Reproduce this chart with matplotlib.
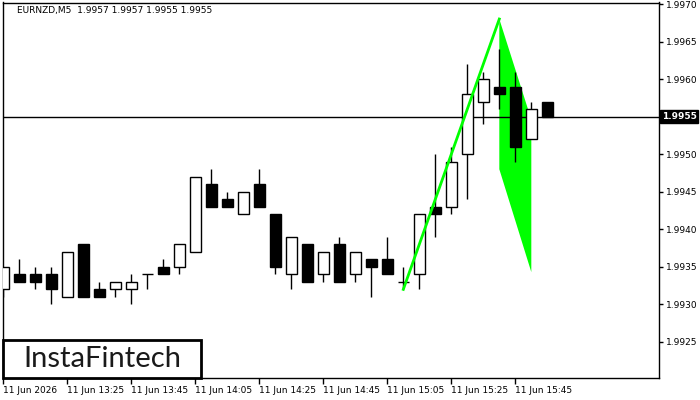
import numpy as np
import matplotlib.pyplot as plt
from matplotlib.patches import Polygon, Rectangle
from matplotlib.transforms import blended_transform_factory

# -----------------------------
# Datos (velas M5 EURNZD)
# -----------------------------

symbol_text = "EURNZD,M5  1.9957 1.9957 1.9955 1.9955"

opens = [1.9932, 1.9934, 1.9934, 1.9934, 1.9931, 1.9938, 1.9932, 1.9932, 1.9932, 1.9934,
         1.9935, 1.9935, 1.9937, 1.9946, 1.9944, 1.9942, 1.9946, 1.9942, 1.9934, 1.9938,
         1.9934, 1.9938, 1.9934, 1.9936, 1.9936, 1.9933, 1.9934, 1.9943, 1.9943, 1.9950,
         1.9957, 1.9959, 1.9959, 1.9952, 1.9957]
highs = [1.9935, 1.9936, 1.9935, 1.9935, 1.9937, 1.9938, 1.9933, 1.9933, 1.9934, 1.9934,
         1.9936, 1.9938, 1.9947, 1.9948, 1.9945, 1.9945, 1.9948, 1.9942, 1.9939, 1.9938,
         1.9937, 1.9939, 1.9937, 1.9936, 1.9939, 1.9935, 1.9942, 1.9950, 1.9951, 1.9962,
         1.9961, 1.9964, 1.9961, 1.9957, 1.9957]
lows = [1.9931, 1.9933, 1.9932, 1.9930, 1.9931, 1.9931, 1.9931, 1.9931, 1.9930, 1.9932,
        1.9934, 1.9934, 1.9937, 1.9943, 1.9943, 1.9942, 1.9943, 1.9934, 1.9932, 1.9933,
        1.9933, 1.9933, 1.9933, 1.9931, 1.9934, 1.9932, 1.9932, 1.9939, 1.9942, 1.9944,
        1.9954, 1.9956, 1.9949, 1.9952, 1.9955]
closes = [1.9935, 1.9933, 1.9933, 1.9932, 1.9937, 1.9931, 1.9931, 1.9933, 1.9933, 1.9934,
          1.9934, 1.9938, 1.9947, 1.9943, 1.9943, 1.9945, 1.9943, 1.9935, 1.9939, 1.9933,
          1.9937, 1.9933, 1.9937, 1.9935, 1.9934, 1.9933, 1.9942, 1.9942, 1.9949, 1.9958,
          1.9960, 1.9958, 1.9951, 1.9956, 1.9955]

tick_labels = ["11 Jun 2026", "11 Jun 13:25", "11 Jun 13:45", "11 Jun 14:05",
               "11 Jun 14:25", "11 Jun 14:45", "11 Jun 15:05", "11 Jun 15:25",
               "11 Jun 15:45"]
price_ticks = [1.9925, 1.9930, 1.9935, 1.9940, 1.9945, 1.9950, 1.9955, 1.9960,
               1.9965, 1.9970]
current_price = 1.9955

# Patron (banderin alcista)
pole_x = [25, 31]
pole_y = [1.9932, 1.9968]
flag_x = [31, 33, 33, 31]
flag_y = [1.9968, 1.99546, 1.99343, 1.9948]

# -----------------------------
# Figura
# -----------------------------

W, H = 700, 400
fig = plt.figure(figsize=(7, 4), dpi=100)
left, right = 2.5 / W, 659 / W
bottom, top = (H - 378) / H, (H - 2.5) / H
ax = fig.add_axes([left, bottom, right - left, top - bottom])

x = np.arange(len(opens))
o = np.array(opens)
c = np.array(closes)

ax.vlines(x, lows, highs, color="black", lw=1, zorder=3)
colors = ["black" if cc < oo else "white" for oo, cc in zip(o, c)]
body_bot = np.minimum(o, c)
body_h = np.abs(c - o)
ax.bar(x, body_h, bottom=body_bot, width=0.66, color=colors,
       edgecolor="black", linewidth=1, zorder=4)

# Banderin
ax.add_patch(Polygon(list(zip(flag_x, flag_y)), closed=True,
                     facecolor="#00ff00", edgecolor="none", zorder=2))
ax.plot(pole_x, pole_y, color="#00ff00", lw=2, zorder=5)

ax.axhline(current_price, color="black", lw=1, zorder=3.5)

ax.set_xlim(-0.05, 40.98)
ax.set_ylim(1.99202, 1.99702)

for s in ax.spines.values():
    s.set_linewidth(1)
    s.set_color("black")

# el precio actual va en su propia caja negra
ax.yaxis.tick_right()
ax.set_yticks(price_ticks)
ax.set_yticklabels(["" if p == current_price else f"{p:.4f}" for p in price_ticks],
                   fontsize=6.5)
ax.tick_params(axis="y", direction="out", length=3, width=1, pad=2)

ax.set_xticks(np.arange(0, 4 * len(tick_labels), 4))
ax.set_xticklabels(tick_labels, fontsize=6.5)
for lbl in ax.get_xticklabels():
    lbl.set_ha("left")
ax.tick_params(axis="x", direction="out", length=4, width=1, pad=2)

# Etiqueta del precio actual
tr = blended_transform_factory(ax.transAxes, ax.transData)
ax.text(1.004, current_price, f"{current_price:.4f}", transform=tr,
        fontsize=6.5, color="white", fontweight="bold", va="center", ha="left",
        bbox=dict(boxstyle="square,pad=0.2", facecolor="black", edgecolor="black"))

# Encabezado
fig.text(17 / W, 1 - 10 / H, symbol_text, fontsize=6.5, va="center", ha="left")

# Logo
fig.patches.append(Rectangle((3 / W, (H - 378) / H), 198 / W, 38 / H,
                             transform=fig.transFigure, facecolor="white",
                             edgecolor="black", lw=2, zorder=10))
fig.text(102 / W, 1 - 359 / H, "InstaFintech", fontsize=21, family="Lato",
         color="#1a1a1a", ha="center", va="center", zorder=11)

fig.savefig("out.png", dpi=100)
